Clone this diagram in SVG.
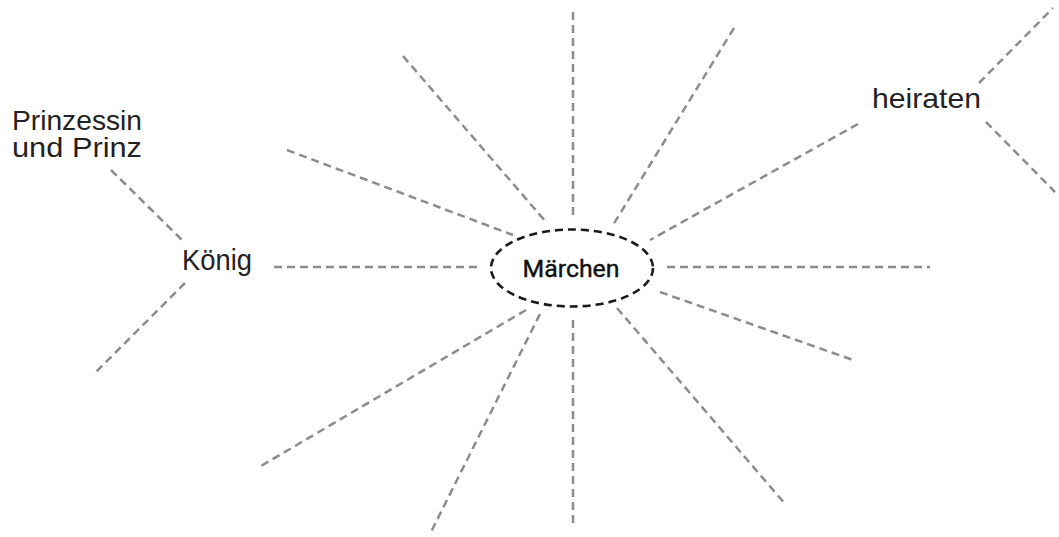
<svg xmlns="http://www.w3.org/2000/svg" width="1059" height="537" viewBox="0 0 1059 537">
<style>
.c{stroke:#8c8c8c;stroke-width:2.5;stroke-dasharray:8 5;fill:none}
.hand{font-family:"Liberation Sans","DejaVu Sans",sans-serif;font-weight:normal;fill:#222}
.main{font-family:Roboto,"Liberation Sans",Arial,sans-serif;font-weight:normal;font-size:23px;fill:#111;stroke:#111;stroke-width:0.4;text-anchor:middle}
</style>
<rect width="1059" height="537" fill="#fff"/>
<g id="connectors">
<line class="c" x1="573" y1="12" x2="573" y2="218"/>
<line class="c" x1="403" y1="56" x2="546" y2="222"/>
<line class="c" x1="734" y1="28" x2="613" y2="225"/>
<line class="c" x1="287" y1="150" x2="513" y2="235"/>
<line class="c" x1="858" y1="124" x2="650" y2="240"/>
<line class="c" x1="274" y1="267" x2="477" y2="267"/>
<line class="c" x1="667" y1="267" x2="930" y2="267"/>
<line class="c" x1="526" y1="310" x2="261" y2="466"/>
<line class="c" x1="540" y1="314" x2="431" y2="532"/>
<line class="c" x1="573" y1="320" x2="573" y2="525"/>
<line class="c" x1="617" y1="308" x2="786" y2="505"/>
<line class="c" x1="660" y1="292" x2="853" y2="360"/>
<line class="c" x1="111" y1="170" x2="182" y2="240"/>
<line class="c" x1="185" y1="283" x2="93" y2="375"/>
<line class="c" x1="979" y1="83" x2="1053" y2="8"/>
<line class="c" x1="986" y1="122" x2="1055" y2="192"/>
</g>
<g id="maerchen">
<ellipse cx="572" cy="268" rx="81" ry="38.5" fill="#fff" stroke="#1a1a1a" stroke-width="2.6" stroke-dasharray="8 5"/>
<text class="main" x="571" y="277" textLength="97" lengthAdjust="spacingAndGlyphs">Märchen</text>
</g>
<g id="koenig">
<text class="hand" x="182" y="270" font-size="30" textLength="70" lengthAdjust="spacingAndGlyphs">König</text>
</g>
<g id="prinzessin">
<text class="hand" x="12" y="130" font-size="27" textLength="130" lengthAdjust="spacingAndGlyphs">Prinzessin</text>
<text class="hand" x="12" y="157" font-size="27" textLength="130" lengthAdjust="spacingAndGlyphs">und Prinz</text>
</g>
<g id="heiraten">
<text class="hand" x="872" y="108" font-size="28" textLength="109" lengthAdjust="spacingAndGlyphs">heiraten</text>
</g>
</svg>
